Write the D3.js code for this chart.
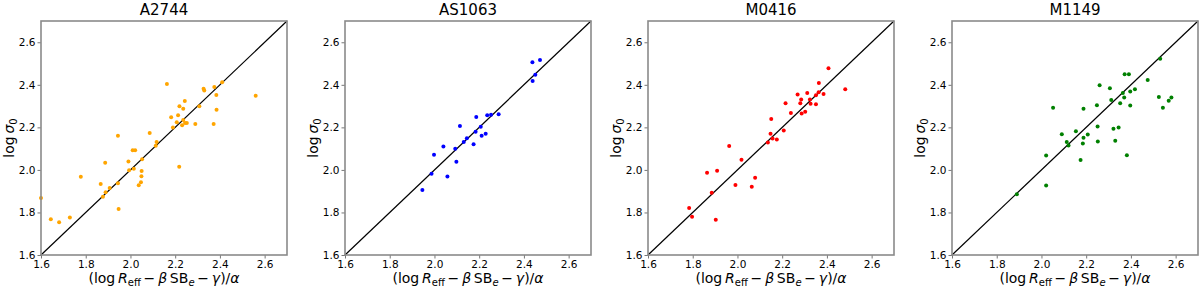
<!DOCTYPE html>
<html>
<head>
<meta charset="utf-8">
<script src="https://cdn.jsdelivr.net/npm/d3@7"></script>
<style>
  html, body { margin: 0; padding: 0; background: #fff; }
  svg { display: block; font-family: "DejaVu Sans", sans-serif; }
</style>
</head>
<body>
<svg id="chart" width="1200" height="290"></svg>
<script>
// ---- data ----
const clusters = ["A2744", "AS1063", "M0416", "M1149"];
const colors = ["#ffa500", "#0000ff", "#ff0000", "#008000"];
const tickValues = [1.6, 1.8, 2.0, 2.2, 2.4, 2.6];
const axisDomain = [1.6, 2.7];

const a2744X = [1.600,1.644,1.681,1.729,1.778,1.867,1.877,1.887,1.889,1.907,1.944,1.944,1.947,1.991,1.994,2.010,2.021,2.015,2.037,2.047,2.049,2.050,2.052,2.086,2.117,2.113,2.163,2.182,2.190,2.207,2.213,2.219,2.218,2.231,2.236,2.243,2.236,2.244,2.252,2.290,2.308,2.327,2.330,2.372,2.375,2.384,2.385,2.410,2.560];
const a2744Y = [1.868,1.768,1.754,1.776,1.968,1.934,1.874,2.034,1.895,1.915,2.161,1.937,1.816,2.039,1.998,2.092,2.092,2.006,1.928,1.942,1.970,1.995,2.050,2.174,2.131,2.114,2.404,2.247,2.199,2.224,2.257,2.299,2.015,2.210,2.287,2.324,2.235,2.221,2.221,2.216,2.299,2.381,2.373,2.216,2.390,2.352,2.283,2.412,2.349];

const as1063X = [1.946,1.987,1.998,2.040,2.058,2.093,2.098,2.114,2.131,2.145,2.175,2.184,2.187,2.207,2.211,2.229,2.236,2.253,2.287,2.438,2.439,2.451,2.472];
const as1063Y = [1.905,1.982,2.071,2.110,1.969,2.099,2.038,2.206,2.131,2.149,2.121,2.179,2.249,2.203,2.160,2.170,2.257,2.259,2.262,2.506,2.418,2.447,2.517];

const m0416X = [1.784,1.797,1.864,1.885,1.909,1.903,1.963,1.991,2.018,2.064,2.079,2.136,2.148,2.151,2.157,2.176,2.207,2.215,2.239,2.269,2.281,2.285,2.287,2.303,2.312,2.324,2.327,2.351,2.351,2.364,2.363,2.385,2.407,2.482];
const m0416Y = [1.821,1.780,1.987,1.893,1.996,1.766,2.112,1.929,2.048,1.921,1.963,2.129,2.170,2.239,2.148,2.143,2.185,2.313,2.267,2.354,2.313,2.331,2.265,2.273,2.362,2.331,2.311,2.309,2.351,2.408,2.365,2.357,2.478,2.379];

const m1149X = [1.890,2.021,2.021,2.052,2.091,2.113,2.121,2.154,2.175,2.185,2.188,2.188,2.207,2.248,2.251,2.252,2.260,2.306,2.312,2.322,2.330,2.345,2.352,2.364,2.372,2.370,2.382,2.391,2.397,2.397,2.418,2.475,2.531,2.525,2.543,2.569,2.581];
const m1149Y = [1.885,2.068,1.927,2.292,2.168,2.131,2.115,2.182,2.046,2.124,2.151,2.287,2.166,2.304,2.204,2.134,2.398,2.384,2.329,2.193,2.137,2.199,2.313,2.362,2.450,2.340,2.069,2.450,2.369,2.303,2.379,2.423,2.523,2.343,2.292,2.325,2.340];

const seriesX = [a2744X, as1063X, m0416X, m1149X];
const seriesY = [a2744Y, as1063Y, m0416Y, m1149Y];

// ---- layout ----
const svg = d3.select("#chart");
const panelLefts = [41, 345, 648, 952];
const panelW = 246, plotTop = 21, plotBottom = 255;

clusters.forEach((name, i) => {
  const x0 = panelLefts[i];
  const x = d3.scaleLinear().domain(axisDomain).range([x0, x0 + panelW]);
  const y = d3.scaleLinear().domain(axisDomain).range([plotBottom, plotTop]);
  const g = svg.append("g");

  // identity line
  g.append("line")
    .attr("x1", x(axisDomain[0])).attr("y1", y(axisDomain[0]))
    .attr("x2", x(axisDomain[1])).attr("y2", y(axisDomain[1]))
    .attr("stroke", "#000").attr("stroke-width", 1.2);

  // points
  const pts = seriesX[i].map((v, k) => [v, seriesY[i][k]]);
  g.selectAll("circle").data(pts).enter().append("circle")
    .attr("cx", d => x(d[0])).attr("cy", d => y(d[1]))
    .attr("r", 2).attr("fill", colors[i]);

  // axes
  const fmt = d3.format(".1f");
  const xAxis = g.append("g").attr("transform", `translate(0,${plotBottom})`)
    .call(d3.axisBottom(x).tickValues(tickValues).tickFormat(fmt).tickSize(3.5).tickPadding(2));
  const yAxis = g.append("g").attr("transform", `translate(${x0},0)`)
    .call(d3.axisLeft(y).tickValues(tickValues).tickFormat(fmt).tickSize(3.5).tickPadding(2));
  [xAxis, yAxis].forEach(a => {
    a.select(".domain").remove();
    a.selectAll(".tick line").attr("stroke", "#777").attr("stroke-width", 1);
    a.selectAll(".tick text").attr("fill", "#000").attr("font-size", 10.5)
      .attr("font-family", "DejaVu Sans, sans-serif");
  });

  // frame
  g.append("rect")
    .attr("x", x0).attr("y", plotTop).attr("width", panelW).attr("height", plotBottom - plotTop)
    .attr("fill", "none").attr("stroke", "#8a8a8a").attr("stroke-width", 1.6);

  // title
  g.append("text").attr("x", x0 + panelW / 2).attr("y", 15)
    .attr("text-anchor", "middle").attr("font-size", 15).attr("fill", "#000")
    .text(name);

  // x label
  const xl = g.append("text").attr("x", x0 + panelW / 2).attr("y", 283)
    .attr("text-anchor", "middle").attr("font-size", 14).attr("fill", "#000");
  xl.append("tspan").text("(log\u2009");
  xl.append("tspan").attr("font-style", "italic").text("R");
  xl.append("tspan").attr("font-size", 10).attr("dy", 3).text("eff");
  xl.append("tspan").attr("dy", -3).text("\u2009\u2212\u2009");
  xl.append("tspan").attr("font-style", "italic").text("\u03B2");
  xl.append("tspan").text("\u2009SB");
  xl.append("tspan").attr("font-size", 10).attr("font-style", "italic").attr("dy", 3).text("e");
  xl.append("tspan").attr("dy", -3).text("\u2009\u2212\u2009");
  xl.append("tspan").attr("font-style", "italic").text("\u03B3");
  xl.append("tspan").text(")/");
  xl.append("tspan").attr("font-style", "italic").text("\u03B1");

  // y label
  const cy = (plotTop + plotBottom) / 2;
  const yl = g.append("text")
    .attr("transform", `translate(${x0 - 27},${cy}) rotate(-90)`)
    .attr("text-anchor", "middle").attr("font-size", 14).attr("fill", "#000");
  yl.append("tspan").text("log\u2009");
  yl.append("tspan").attr("font-style", "italic").text("\u03C3");
  yl.append("tspan").attr("font-size", 10).attr("dy", 3).text("0");
});
</script>
</body>
</html>
